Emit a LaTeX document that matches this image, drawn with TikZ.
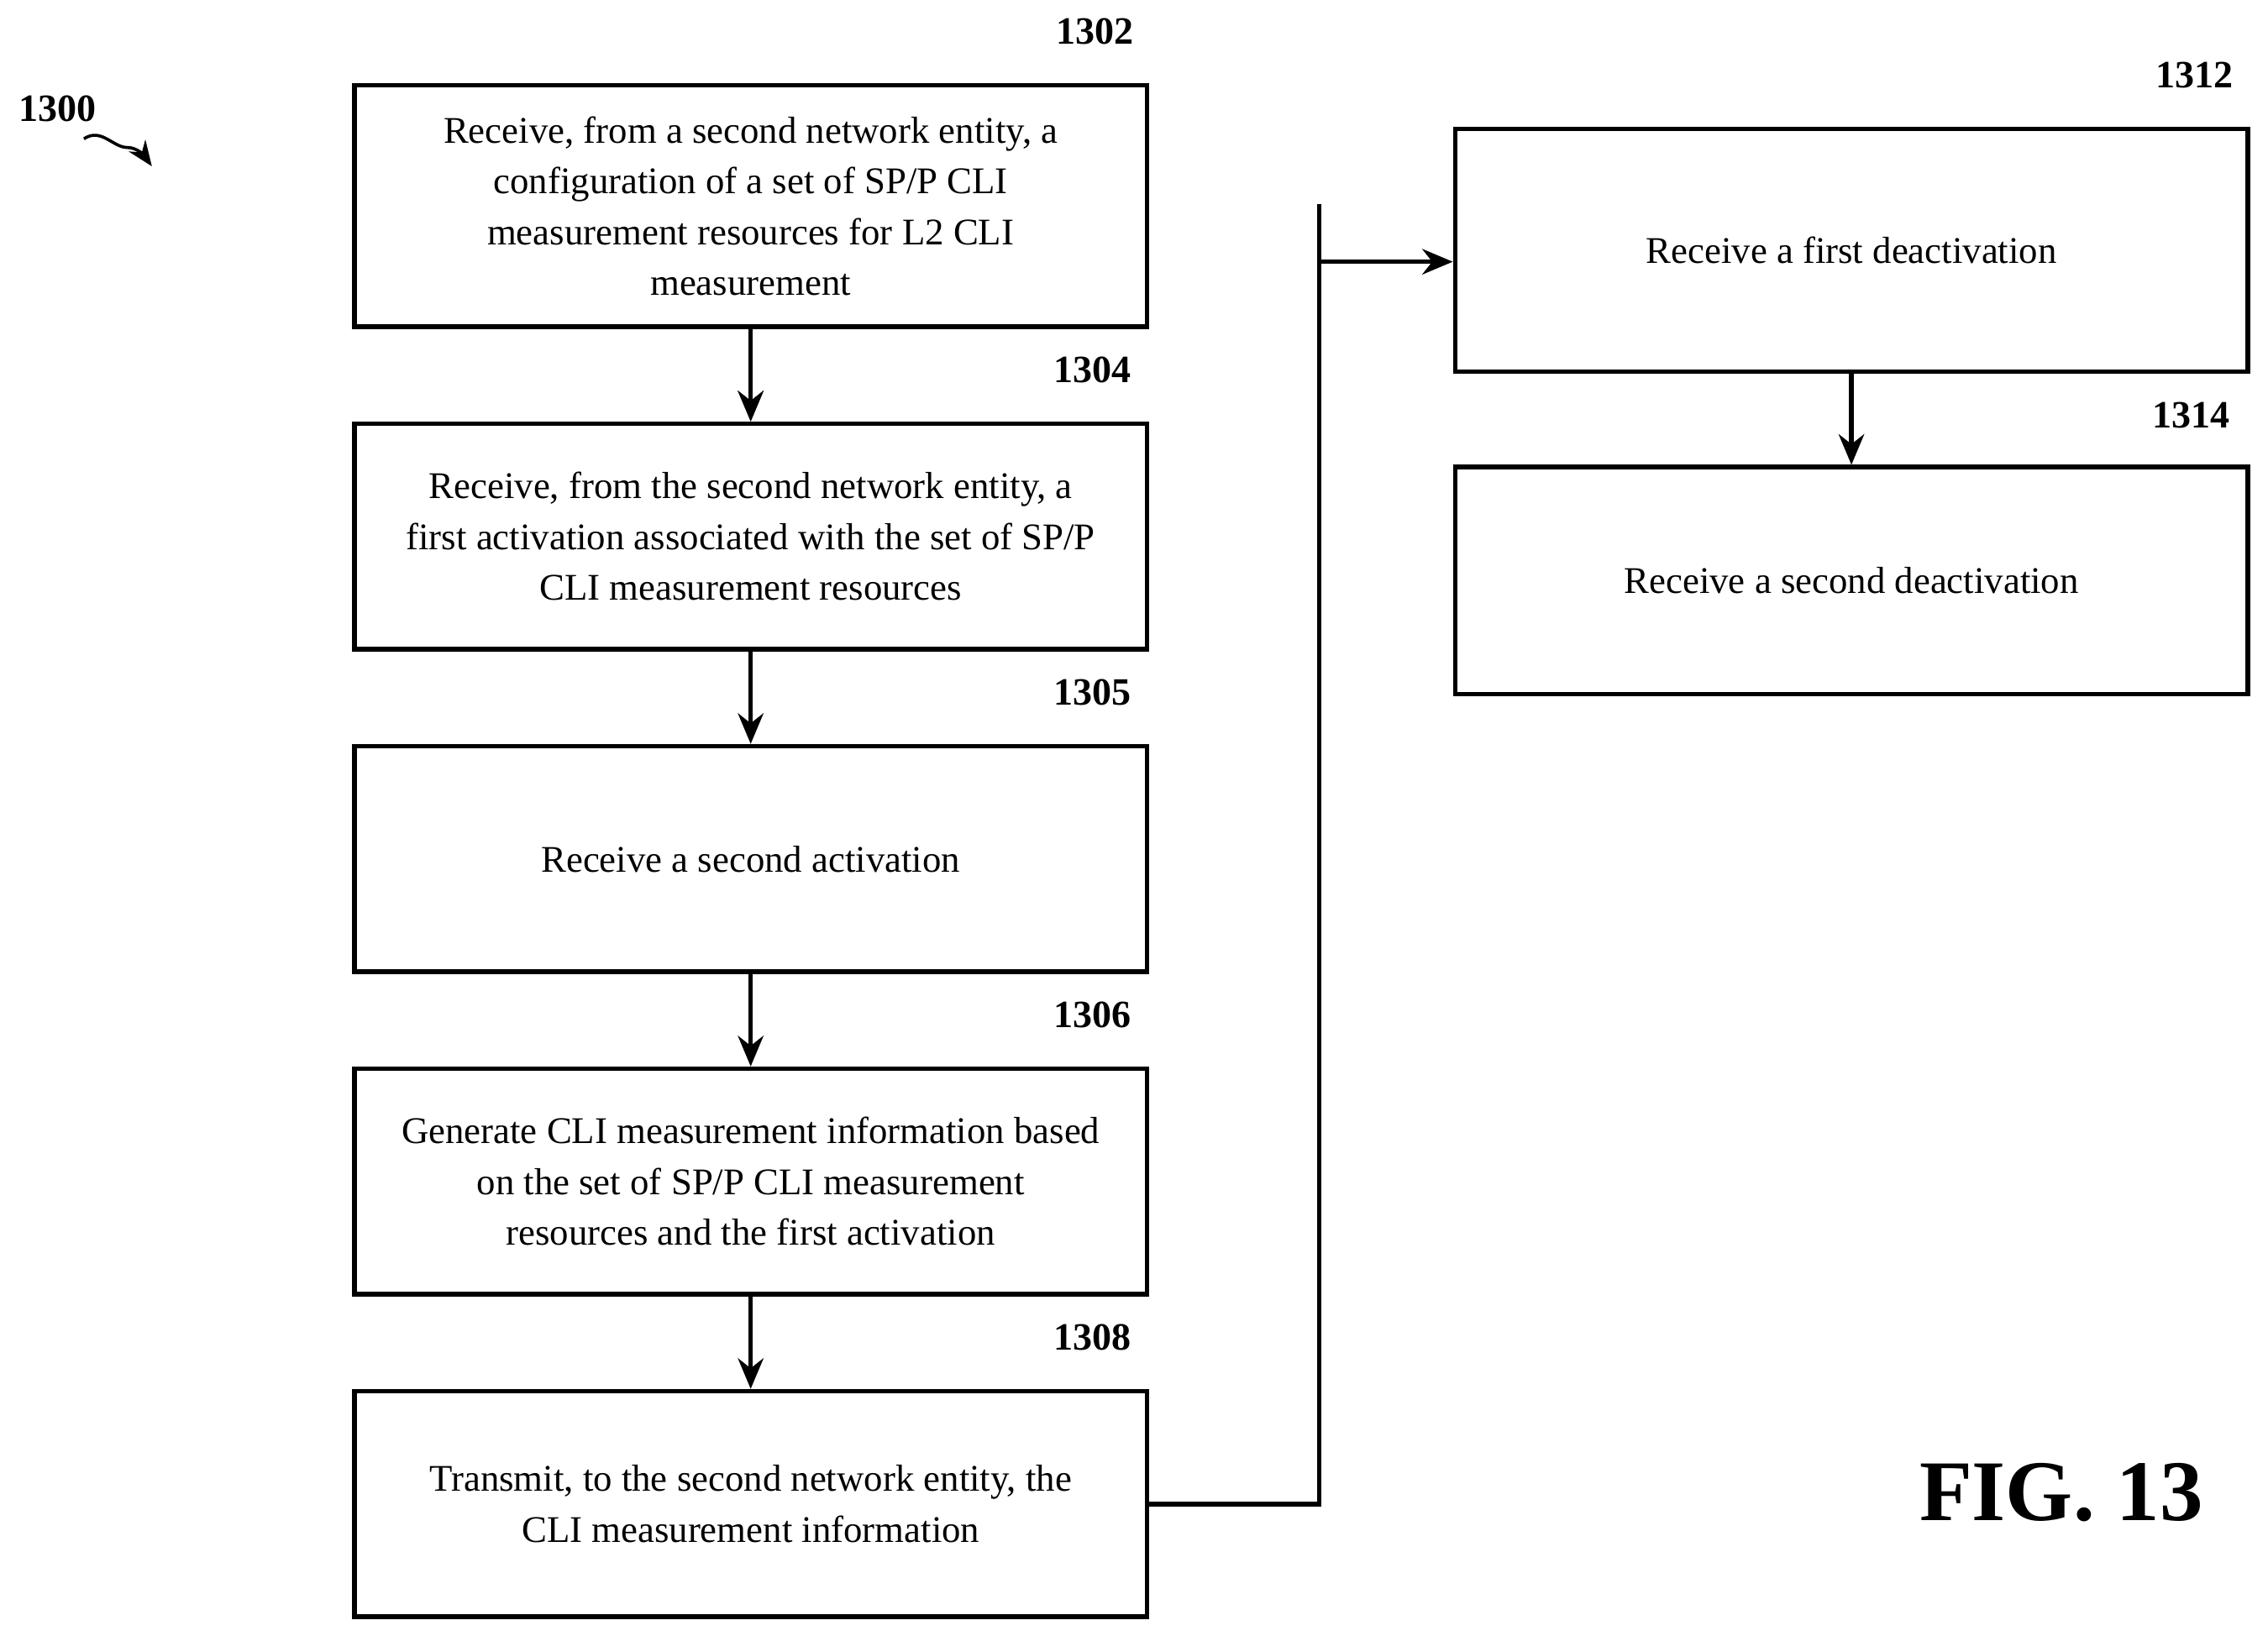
\documentclass[tikz,border=0pt]{standalone}
\usepackage{fontspec}
\setmainfont{Liberation Serif}
\usetikzlibrary{arrows.meta}
\begin{document}
\begin{tikzpicture}[x=0.01cm,y=-0.01cm,
 box/.style={draw,line width=0.9pt,minimum width=548\pgflinewidth,inner sep=0pt,align=center,font=\fontsize{7.4}{10}\selectfont},
 lbl/.style={font=\bfseries\fontsize{7.6}{9}\selectfont},
 arr/.style={-{Stealth[length=6pt,width=5pt]},line width=0.9pt},
 sq/.style={line width=0.6pt}]
\useasboundingbox (0,0) rectangle (1568,1131);
\newcommand{\mybox}[6]{\node[box,minimum width=#3*0.01cm,minimum height=#4*0.01cm] (#1) at (#2) {#5};
 \node[lbl] (l#1) at (#6) {#1};}
\mybox{1302}{519,142.5}{548}{167}{Receive, from a second network entity, a\\configuration of a set of SP/P CLI\\measurement resources for L2 CLI\\measurement}{757,22}
\mybox{1304}{519,371}{548}{156}{Receive, from the second network entity, a\\first activation associated with the set of SP/P\\CLI measurement resources}{755,256}
\mybox{1305}{519,594}{548}{156}{Receive a second activation}{755,479}
\mybox{1306}{519,817}{548}{156}{Generate CLI measurement information based\\on the set of SP/P CLI measurement\\resources and the first activation}{755,702}
\mybox{1308}{519,1040}{548}{156}{Transmit, to the second network entity, the\\CLI measurement information}{755,925}
\mybox{1312}{1280,173}{548}{168}{Receive a first deactivation}{1517,52}
\mybox{1314}{1280,401.5}{548}{157}{Receive a second deactivation}{1515,287}
\foreach \b in {1302,1304,1305,1306,1308,1312,1314}{
 \draw[sq] ([xshift=-0.26cm,yshift=-0.02cm]\b.north east) .. controls +(0.02,0.08) and +(-0.06,-0.02) .. +(0.08,0.09) .. controls +(0.1,0.1) and +(-0.02,-0.06) .. +(0.16,0.18);
}
\foreach \a/\b in {1302/1304,1304/1305,1305/1306,1306/1308,1312/1314} \draw[arr] (\a) -- (\b);
\draw[arr] (1302.south) -- (1304.north);
\coordinate (top) at (912,141);
\coordinate (j) at (912,181);
\draw[line width=0.9pt] (1308.east) -| (top);
\draw[arr] (j) -- (1312.west |- j);
\node[lbl] (l1300) at (40,75) {1300};
\draw[sq,-{Stealth[length=5pt,width=4pt]}] (58,96) .. controls (70,88) and (78,102) .. (88,102) .. controls (95,102) and (100,108) .. (105,115);
\node[font=\bfseries\fontsize{17}{20}\selectfont] (fig) at (1425,1032) {FIG. 13};
\end{tikzpicture}
\end{document}
